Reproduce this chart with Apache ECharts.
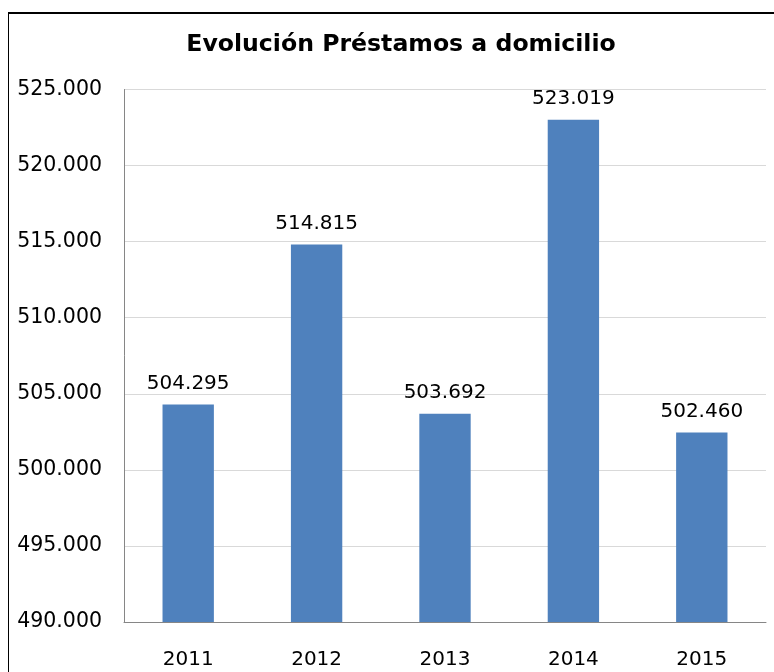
<!DOCTYPE html>
<html>
<head>
<meta charset="utf-8">
<style type="text/css">
html, body{margin: 0; padding: 0; background: #fff; overflow: hidden;}
#frame{position: absolute; left: 8px; top: 12px; width: 800px; height: 700px; border-left: 1px solid #000; border-top: 2px solid #000;}
#main{position: absolute; left: 0; top: 0; width: 774px; height: 672px;}
</style>
<script src="https://cdn.jsdelivr.net/npm/echarts@6/dist/echarts.min.js"></script>
</head>
<body>
<div id="frame"></div>
<div id="main"></div>
<script>
// datos del gráfico
var years = ['2011', '2012', '2013', '2014', '2015'];
var prestamos = [504295, 514815, 503692, 523019, 502460];
var yMin = 490000, yMax = 525000, yStep = 5000;

// 504295 -> "504.295"
function miles(v){
    return String(Math.round(v)).replace(/\B(?=(\d{3})+(?!\d))/g, '.');
}

var myChart = echarts.init(document.getElementById('main'), null, {renderer: 'canvas'});
var options = {
    animation: false,
    title: {
        text: 'Evolución Préstamos a domicilio',
        left: 396,
        top: 28,
        textAlign: 'center',
        textStyle: {fontFamily: 'DejaVu Sans', fontWeight: 'bold', fontSize: 23.6, color: '#000'}
    },
    grid: {left: 124, right: 8, top: 89.5, bottom: 50, containLabel: false},
    xAxis: {
        type: 'category',
        data: years,
        axisLine: {lineStyle: {color: '#868686', width: 1}},
        axisTick: {show: false},
        axisLabel: {margin: 28, fontFamily: 'DejaVu Sans', fontSize: 20, color: '#000'}
    },
    yAxis: {
        type: 'value',
        min: yMin,
        max: yMax,
        interval: yStep,
        axisLine: {show: true, lineStyle: {color: '#868686', width: 1}},
        axisTick: {show: false},
        splitLine: {lineStyle: {color: '#d9d9d9', width: 1}},
        axisLabel: {margin: 22, padding: [6, 0, 0, 0], fontFamily: 'DejaVu Sans', fontSize: 20.5, color: '#000', formatter: miles}
    },
    series: [{
        name: 'Préstamos',
        type: 'bar',
        barWidth: '40%',
        itemStyle: {color: '#4f81bd'},
        label: {
            show: true,
            position: 'top',
            distance: 11,
            fontFamily: 'DejaVu Sans',
            fontSize: 20,
            color: '#000',
            formatter: function(p){ return miles(p.value); }
        },
        data: prestamos
    }]
};
myChart.setOption(options);
</script>
</body>
</html>
